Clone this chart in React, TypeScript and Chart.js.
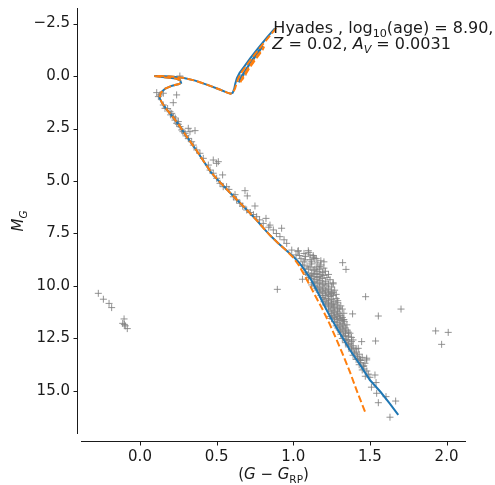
import React, { useEffect, useRef } from "react";
import { Chart, registerables } from "chart.js";

Chart.register(...registerables);

// ---- axes ----
const xTickValues = [0, 0.5, 1.0, 1.5, 2.0];
const yTickValues = [-2.5, 0, 2.5, 5, 7.5, 10, 12.5, 15];
const xLimits = [-0.385, 2.127];
const yLimits = [-3.24, 17.05];

// ---- isochrone, log10(age)=8.90, solid blue ----
const isoSolidMain: [number, number][] = [
  [1.685, 16.14], [1.63, 15.6], [1.57, 15.05], [1.5, 14.48], [1.44, 13.8], [1.37, 13.05],
  [1.3, 12.2], [1.24, 11.46], [1.2, 10.9], [1.16, 10.3], [1.12, 9.75], [1.08, 9.3],
  [1.04, 8.9], [1.0, 8.6], [0.95, 8.28], [0.9, 7.95], [0.85, 7.6], [0.8, 7.2],
  [0.76, 6.86], [0.7, 6.4], [0.64, 5.95], [0.58, 5.5], [0.52, 5.05], [0.46, 4.55],
  [0.41, 4.0], [0.36, 3.45], [0.305, 2.89], [0.26, 2.4], [0.215, 1.95], [0.175, 1.6],
  [0.145, 1.3], [0.128, 1.05], [0.135, 0.8], [0.165, 0.6], [0.21, 0.46], [0.255, 0.38],
  [0.268, 0.32], [0.262, 0.2], [0.235, 0.12], [0.19, 0.08], [0.13, 0.04], [0.093, 0.0],
  [0.13, 0.0], [0.2, 0.02], [0.28, 0.08], [0.36, 0.22], [0.44, 0.42], [0.52, 0.64],
  [0.565, 0.78], [0.59, 0.84], [0.605, 0.8], [0.615, 0.6], [0.622, 0.35], [0.632, 0.1],
  [0.65, -0.15], [0.68, -0.45], [0.72, -0.85], [0.77, -1.32], [0.83, -1.85], [0.88, -2.27],
];
const isoSolidLoop: [number, number][] = [
  [0.645, 0.3], [0.66, 0.05], [0.69, -0.3], [0.73, -0.75], [0.77, -1.15], [0.8, -1.45],
  [0.79, -1.3], [0.75, -0.9], [0.71, -0.5], [0.68, -0.15], [0.655, 0.15],
];

// ---- comparison isochrone, dashed orange ----
const isoDashedMain: [number, number][] = [
  [1.468, 15.98], [1.42, 15.1], [1.37, 14.1], [1.32, 13.2], [1.283, 12.57], [1.24, 11.85],
  [1.19, 11.1], [1.153, 10.6], [1.11, 10.0], [1.07, 9.45], [1.035, 9.0], [1.0, 8.65],
  [0.95, 8.28], [0.9, 7.95], [0.85, 7.6], [0.8, 7.2], [0.76, 6.86], [0.7, 6.4],
  [0.64, 5.95], [0.58, 5.5], [0.52, 5.05], [0.46, 4.55], [0.41, 4.0], [0.36, 3.45],
  [0.305, 2.89], [0.26, 2.4], [0.215, 1.95], [0.175, 1.6], [0.145, 1.3], [0.128, 1.05],
  [0.135, 0.8], [0.165, 0.6], [0.21, 0.46], [0.255, 0.38], [0.268, 0.32], [0.262, 0.2],
  [0.235, 0.12], [0.19, 0.08], [0.13, 0.04], [0.093, 0.0], [0.13, 0.0], [0.2, 0.02],
  [0.28, 0.08], [0.36, 0.22], [0.44, 0.42], [0.52, 0.64], [0.565, 0.78], [0.59, 0.84],
  [0.605, 0.8], [0.62, 0.6], [0.63, 0.35], [0.642, 0.1], [0.66, -0.15], [0.69, -0.45],
  [0.73, -0.85], [0.78, -1.32], [0.84, -1.85], [0.89, -2.3],
];
const isoDashedLoop: [number, number][] = [
  [0.655, 0.3], [0.67, 0.05], [0.7, -0.3], [0.74, -0.75], [0.78, -1.1], [0.81, -1.4],
  [0.8, -1.25], [0.76, -0.85], [0.72, -0.45], [0.69, -0.1], [0.665, 0.2],
];

// ---- Hyades members (G - G_RP, M_G) ----
const starsBright: [number, number][] = [
  [0.26, 0.0], [0.674, -0.05], [0.652, 0.11],
  [0.109, 0.79], [0.13, 0.9], [0.152, 0.82], [0.12, 0.98], [0.239, 0.9], [0.217, 1.27],
  [0.152, 1.38], [0.163, 1.54], [0.196, 1.7], [0.207, 1.78], [0.217, 1.94], [0.228, 2.1],
  [0.239, 2.25], [0.25, 2.17], [0.261, 2.41], [0.272, 2.57], [0.315, 2.49], [0.326, 2.65],
  [0.359, 2.6], [0.294, 2.73], [0.315, 2.97], [0.337, 3.13], [0.348, 3.29], [0.37, 3.52],
  [0.391, 3.68], [0.413, 3.92], [0.478, 4.0], [0.5, 4.16], [0.511, 4.08], [0.446, 4.24],
  [0.457, 4.48], [0.478, 4.63], [0.539, 4.71], [0.5, 4.87], [0.522, 5.11], [0.543, 5.27],
  [0.18, 1.55], [0.2, 1.85], [0.23, 2.0], [0.25, 2.3], [0.28, 2.65], [0.3, 2.85],
];
const starsMid: [number, number][] = [
  [0.565, 5.27], [0.58, 5.4], [0.62, 5.65], [0.609, 5.75], [0.63, 5.9], [0.652, 6.06],
  [0.67, 6.2], [0.685, 5.46], [0.7, 5.71], [0.696, 6.38], [0.72, 6.5], [0.74, 6.6],
  [0.75, 6.19], [0.761, 6.7], [0.78, 6.85], [0.822, 6.78], [0.804, 7.02], [0.848, 7.1],
  [0.84, 7.2], [0.924, 7.25], [0.87, 7.33], [0.89, 7.5], [0.913, 7.65], [0.94, 7.8],
  [0.957, 7.97], [0.99, 8.29], [1.018, 8.52], [0.896, 10.16],
];
const starsFaint: [number, number][] = [
  [1.03, 8.35], [1.07, 8.45], [1.1, 8.4], [1.13, 8.55], [1.08, 8.6], [1.15, 8.7], [1.11, 8.75],
  [1.05, 8.7], [1.18, 8.8], [1.06, 9.0], [1.09, 9.05], [1.12, 8.95], [1.15, 9.1], [1.18, 9.0],
  [1.2, 9.15], [1.1, 9.2], [1.13, 9.25], [1.16, 9.3], [1.19, 9.35], [1.08, 9.35], [1.11, 9.5],
  [1.14, 9.45], [1.17, 9.55], [1.2, 9.5], [1.22, 9.6], [1.12, 9.65], [1.15, 9.7], [1.18, 9.75],
  [1.21, 9.8], [1.24, 9.7], [1.13, 9.85], [1.16, 9.9], [1.19, 9.95], [1.22, 10.0], [1.25, 10.05],
  [1.15, 10.1], [1.18, 10.15], [1.21, 10.2], [1.24, 10.25], [1.27, 10.2], [1.17, 10.3],
  [1.2, 10.35], [1.23, 10.4], [1.26, 10.45], [1.19, 10.55], [1.22, 10.6], [1.25, 10.65],
  [1.28, 10.6], [1.2, 10.75], [1.23, 10.8], [1.26, 10.85], [1.29, 10.8], [1.21, 10.9],
  [1.24, 10.95], [1.27, 11.0], [1.3, 11.05], [1.23, 11.1], [1.26, 11.15], [1.29, 11.2],
  [1.32, 11.1], [1.25, 11.3], [1.28, 11.35], [1.31, 11.4], [1.24, 11.45], [1.27, 11.5],
  [1.3, 11.55], [1.33, 11.6], [1.27, 11.7], [1.29, 11.75], [1.32, 11.8], [1.28, 11.9],
  [1.31, 11.95], [1.34, 12.0], [1.3, 12.1], [1.33, 12.15], [1.36, 12.2], [1.31, 12.3],
  [1.34, 12.35], [1.32, 12.5], [1.35, 12.55], [1.38, 12.45], [1.34, 12.7], [1.37, 12.75],
  [1.36, 12.9], [1.39, 12.95], [1.38, 13.1], [1.41, 13.15], [1.39, 13.3], [1.42, 13.35],
  [1.41, 13.5], [1.44, 13.55], [1.43, 13.75], [1.46, 13.8], [1.45, 14.0], [1.48, 14.05],
  [1.47, 14.3], [1.5, 14.35], [1.06, 9.68], [1.174, 9.08], [1.26, 9.9], [1.29, 11.1],
  [1.326, 11.62], [1.37, 12.25], [1.39, 12.57], [1.435, 13.52], [1.457, 13.84], [1.468, 13.68],
  [1.479, 13.52], [1.533, 14.24], [1.54, 14.6], [1.51, 14.82], [1.544, 15.11], [1.555, 15.56],
  [1.605, 15.27], [1.668, 15.48], [1.631, 16.25], [1.033, 8.32], [1.098, 8.32], [1.131, 8.63],
  [1.109, 8.52], [1.14, 8.68], [1.076, 8.76],
  [1.04, 8.55], [1.12, 8.85], [1.16, 8.9], [1.07, 8.85], [1.2, 8.85],
  [1.07, 9.15], [1.11, 9.1], [1.14, 9.2], [1.17, 9.2], [1.21, 9.3], [1.09, 9.45], [1.12, 9.4],
  [1.15, 9.4], [1.18, 9.45], [1.23, 9.45],
  [1.1, 9.6], [1.13, 9.55], [1.16, 9.6], [1.19, 9.65], [1.14, 9.8], [1.17, 9.85], [1.2, 9.9],
  [1.23, 9.9], [1.26, 9.85], [1.12, 9.95],
  [1.14, 10.0], [1.17, 10.05], [1.2, 10.1], [1.23, 10.15], [1.26, 10.3], [1.16, 10.2],
  [1.19, 10.25], [1.22, 10.3], [1.25, 10.35], [1.18, 10.45], [1.21, 10.45], [1.24, 10.5],
  [1.28, 10.4],
  [1.2, 10.65], [1.23, 10.7], [1.26, 10.75], [1.29, 10.7], [1.22, 10.85], [1.25, 10.9],
  [1.28, 10.9], [1.31, 10.95], [1.23, 11.0], [1.26, 11.05],
  [1.24, 11.2], [1.27, 11.25], [1.3, 11.3], [1.33, 11.3], [1.26, 11.4], [1.29, 11.45],
  [1.32, 11.5], [1.25, 11.55],
  [1.28, 11.6], [1.31, 11.65], [1.3, 11.85], [1.33, 11.9], [1.35, 11.85], [1.29, 12.0],
  [1.32, 12.05], [1.35, 12.1], [1.31, 12.2], [1.34, 12.25],
  [1.33, 12.4], [1.36, 12.4], [1.35, 12.6], [1.38, 12.65], [1.36, 12.8], [1.39, 12.85],
  [1.38, 13.0], [1.41, 13.0],
  [1.4, 13.2], [1.43, 13.25], [1.42, 13.45], [1.45, 13.4], [1.44, 13.65], [1.46, 13.95],
  [1.49, 14.2],
];
const starsOutliers: [number, number][] = [
  [-0.272, 10.35], [-0.239, 10.63], [-0.202, 10.83], [-0.185, 11.03], [-0.104, 11.57],
  [-0.113, 11.78], [-0.102, 11.83], [-0.083, 12.03], [-0.096, 11.9],
  [1.322, 8.89], [1.344, 9.21], [1.472, 10.51], [1.703, 11.1], [1.387, 11.33], [1.555, 11.43],
  [1.929, 12.14], [2.011, 12.21], [1.968, 12.78], [1.537, 12.62], [1.446, 12.65], [1.424, 12.97],
  [1.479, 13.44], [1.333, 11.7],
];

const FONT = "'DejaVu Sans', sans-serif";
const INK = "#1a1a1a";

type Seg = { t: string; it?: boolean; sub?: boolean };

function drawRich(ctx: CanvasRenderingContext2D, segs: Seg[], x: number, y: number, size: number, align: "left" | "center") {
  const fontFor = (s: Seg) => `${s.it ? "italic " : ""}${s.sub ? size * 0.7 : size}px ${FONT}`;
  let total = 0;
  for (const s of segs) { ctx.font = fontFor(s); total += ctx.measureText(s.t).width; }
  let cx = align === "center" ? x - total / 2 : x;
  ctx.textBaseline = "alphabetic";
  ctx.textAlign = "left";
  for (const s of segs) {
    ctx.font = fontFor(s);
    ctx.fillText(s.t, cx, y + (s.sub ? size * 0.25 : 0));
    cx += ctx.measureText(s.t).width;
  }
}

const despinePlugin = {
  id: "despine",
  afterDraw(chart: any) {
    const { ctx, chartArea: a, scales } = chart;
    const xs = scales.x, ys = scales.y;
    ctx.save();
    ctx.strokeStyle = INK;
    ctx.fillStyle = INK;
    ctx.lineWidth = 1;
    const ax = Math.round(a.left - 4) + 0.5;
    const ay = Math.round(a.bottom + 7) + 0.5;
    ctx.beginPath();
    ctx.moveTo(ax, a.top); ctx.lineTo(ax, a.bottom);
    for (const v of yTickValues) {
      const p = Math.round(ys.getPixelForValue(v)) + 0.5;
      ctx.moveTo(ax - 4, p); ctx.lineTo(ax, p);
    }
    ctx.moveTo(a.left, ay); ctx.lineTo(a.right, ay);
    for (const v of xTickValues) {
      const p = Math.round(xs.getPixelForValue(v)) + 0.5;
      ctx.moveTo(p, ay); ctx.lineTo(p, ay + 4);
    }
    ctx.stroke();

    // axis titles
    drawRich(ctx, [{ t: "(" }, { t: "G", it: true }, { t: " − " }, { t: "G", it: true }, { t: "RP", sub: true }, { t: ")" }],
      (a.left + a.right) / 2, 479, 15, "center");
    ctx.save();
    ctx.translate(23, (a.top + a.bottom) / 2);
    ctx.rotate(-Math.PI / 2);
    drawRich(ctx, [{ t: "M", it: true }, { t: "G", it: true, sub: true }], 0, 0, 15, "center");
    ctx.restore();

    // annotation
    const tx = xs.getPixelForValue(0.87);
    drawRich(ctx, [{ t: "Hyades , log" }, { t: "10", sub: true }, { t: "(age) = 8.90," }], tx, 33, 16, "left");
    drawRich(ctx, [{ t: "Z", it: true }, { t: " = 0.02, " }, { t: "A", it: true }, { t: "V", it: true, sub: true }, { t: " = 0.0031" }], tx - 1, 49, 16, "left");
    ctx.restore();
  },
};

const toPts = (arr: [number, number][]) => arr.map(([x, y]) => ({ x, y }));

export default function App() {
  const ref = useRef<HTMLCanvasElement | null>(null);
  useEffect(() => {
    if (!ref.current) return;
    const lineDs = (data: [number, number][], color: string, dashed: boolean, order: number) => ({
      type: "scatter" as const,
      data: toPts(data),
      showLine: true,
      borderColor: color,
      backgroundColor: color,
      borderWidth: 2,
      borderDash: dashed ? [7, 3] : [],
      pointRadius: 0,
      tension: 0,
      order,
    });
    const allStars = [...starsBright, ...starsMid, ...starsFaint, ...starsOutliers];
    const chart = new Chart(ref.current, {
      type: "scatter",
      data: {
        datasets: [
          lineDs(isoDashedMain, "#ff7f0e", true, 0),
          lineDs(isoDashedLoop, "#ff7f0e", true, 0),
          lineDs(isoSolidMain, "#1f77b4", false, 1),
          lineDs(isoSolidLoop, "#1f77b4", false, 1),
          {
            type: "scatter",
            data: toPts(allStars),
            pointStyle: "cross",
            pointRadius: 3.5,
            borderWidth: 1,
            borderColor: "rgba(128,128,128,0.85)",
            backgroundColor: "rgba(128,128,128,0.85)",
            order: 2,
          },
        ],
      },
      options: {
        responsive: false,
        animation: false,
        layout: { padding: { top: 8, right: 29, left: 0, bottom: 0 } },
        plugins: { legend: { display: false }, tooltip: { enabled: false } },
        scales: {
          x: {
            type: "linear",
            min: xLimits[0],
            max: xLimits[1],
            grid: { display: false, drawTicks: false },
            border: { display: false },
            afterBuildTicks: (s: any) => { s.ticks = xTickValues.map((v) => ({ value: v })); },
            afterFit: (s: any) => { s.height = 51; s.paddingLeft = 0; s.paddingRight = 0; },
            ticks: {
              padding: 14,
              color: INK,
              font: { family: FONT, size: 15 },
              callback: (v: any) => Number(v).toFixed(1).replace("-", "−"),
            },
          },
          y: {
            type: "linear",
            reverse: true,
            min: yLimits[0],
            max: yLimits[1],
            grid: { display: false, drawTicks: false },
            border: { display: false },
            afterBuildTicks: (s: any) => { s.ticks = yTickValues.map((v) => ({ value: v })); },
            afterFit: (s: any) => { s.width = 81; s.paddingTop = 0; s.paddingBottom = 0; },
            ticks: {
              padding: 11,
              color: INK,
              font: { family: FONT, size: 15 },
              callback: (v: any) => Number(v).toFixed(1).replace("-", "−"),
            },
          },
        },
      },
      plugins: [despinePlugin],
    });
    return () => chart.destroy();
  }, []);
  return (
    <div style={{ position: "fixed", left: 0, top: 0, width: 495, height: 485, background: "#fff" }}>
      <canvas ref={ref} width={495} height={485} />
    </div>
  );
}
